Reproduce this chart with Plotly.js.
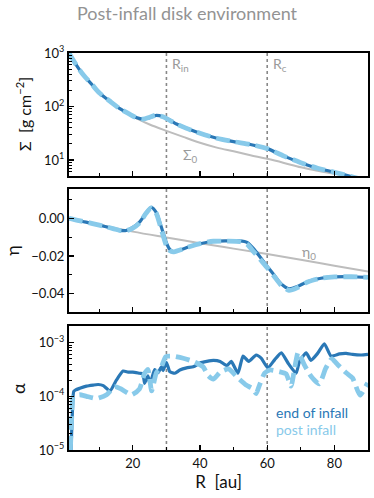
<!DOCTYPE html>
<html>
<head>
<meta charset="utf-8">
<script src="https://cdn.plot.ly/plotly-3.0.1.min.js"></script>
<style>html,body{margin:0;padding:0;background:#fff;}#chart{width:374px;height:498px;}</style>
</head>
<body>
<div id="chart"></div>
<script>
// ---------- data ----------
const markerR = [30, 60];
const markerLabels = ["R<sub>in</sub>", "R<sub>c</sub>"];

// Surface density
const sigmaR = [1, 2, 3, 4, 5, 6, 8, 10, 13, 16, 19, 21, 23, 25, 27, 29, 31, 33, 36, 40, 45, 50, 55, 60, 65, 70, 75, 80, 85, 90];
const sigmaEnd = [1000, 780, 620, 500, 410, 345, 250, 180, 128, 92, 72, 62, 58, 62, 68, 64, 56, 47, 39, 31.5, 25.5, 22, 19.5, 16.3, 11.8, 8.9, 7.0, 5.9, 4.9, 4.0];
const sigmaPost = [1000, 780, 620, 500, 410, 345, 250, 180, 128, 92, 72, 62, 58, 63, 69, 64, 55, 47, 39, 31.5, 25.5, 22, 19.5, 16.3, 11.8, 8.9, 7.0, 5.9, 4.9, 4.0];
const sigma0R = [1, 2, 3, 4, 5, 6, 8, 10, 13, 16, 19, 22, 25, 30, 35, 40, 45, 50, 55, 60, 65, 70, 75, 80, 85, 90];
const sigma0 = [1000, 780, 620, 500, 410, 345, 250, 180, 128, 92, 72, 56, 46, 35, 27, 21, 17, 14.5, 12.3, 10.5, 8.8, 7.3, 6.3, 5.5, 4.9, 4.3];

// Pressure gradient parameter eta
const etaR = [1, 4, 8, 12, 16, 18, 20, 22, 24, 25.5, 27, 28, 29, 30, 31, 32, 34, 37, 40, 44, 48, 52, 54, 56, 58, 60, 62, 64, 66.5, 69, 72, 76, 80, 85, 90];
const etaEnd = [0.0, -0.0013, -0.0028, -0.0045, -0.0064, -0.0065, -0.0048, -0.0020, 0.0030, 0.0058, 0.0030, -0.0020, -0.0075, -0.0130, -0.0165, -0.0177, -0.0168, -0.0150, -0.0135, -0.0122, -0.0120, -0.0120, -0.0128, -0.0162, -0.0208, -0.0255, -0.0300, -0.0345, -0.0374, -0.0362, -0.0336, -0.0318, -0.0311, -0.0310, -0.0313];
const etaPost = [0.0, -0.0013, -0.0028, -0.0045, -0.0064, -0.0066, -0.0052, -0.0025, 0.0028, 0.0055, 0.0025, -0.0030, -0.0090, -0.0145, -0.0172, -0.0178, -0.0168, -0.0150, -0.0135, -0.0122, -0.0121, -0.0124, -0.0138, -0.0178, -0.0220, -0.0262, -0.0306, -0.0352, -0.0382, -0.0368, -0.0338, -0.0318, -0.0311, -0.0310, -0.0313];
const eta0R = [1, 10, 20, 30, 40, 50, 60, 70, 80, 90];
const eta0 = [0.0, -0.0035, -0.0071, -0.0102, -0.0132, -0.0161, -0.0190, -0.0220, -0.0252, -0.0283];

// Viscosity alpha
const alphaEndR = [1.6, 2.0, 2.4, 3, 4.2, 6.2, 8.2, 9.7, 11.2, 13.2, 15.1, 17.1, 18.6, 20, 22, 23, 23.5, 24.5, 25.1, 26.5, 27.5, 28.5, 29, 30, 31, 32.5, 34, 36, 38, 40, 42, 44, 46, 48, 49.3, 51.3, 52.8, 54.5, 56.7, 58.2, 60.2, 62.2, 64.2, 66.4, 68.6, 69.6, 71.6, 73, 75, 77, 79, 81.5, 83.5, 85.4, 88, 90];
const alphaEnd = [1.0e-5, 5.0e-5, 1.23e-4, 1.32e-4, 1.41e-4, 1.55e-4, 1.62e-4, 1.66e-4, 1.58e-4, 1.26e-4, 2.0e-4, 2.95e-4, 2.82e-4, 2.82e-4, 2.69e-4, 2.63e-4, 1.74e-4, 2.40e-4, 1.70e-4, 3.16e-4, 2.75e-4, 3.55e-4, 3.02e-4, 4.27e-4, 2.88e-4, 2.69e-4, 3.09e-4, 3.39e-4, 3.55e-4, 4.17e-4, 4.47e-4, 4.68e-4, 4.47e-4, 3.72e-4, 4.47e-4, 2.69e-4, 5.62e-4, 4.47e-4, 5.89e-4, 5.13e-4, 3.39e-4, 4.79e-4, 6.46e-4, 3.98e-4, 2.69e-4, 4.47e-4, 6.46e-4, 4.68e-4, 6.31e-4, 9.55e-4, 5.62e-4, 6.17e-4, 6.31e-4, 6.03e-4, 5.89e-4, 6.03e-4];
const alphaPostR = [1.4, 1.8, 2.3, 4.2, 6.2, 9.2, 12.2, 14.6, 16.4, 19.6, 22, 23.5, 24.5, 25.6, 27, 28.5, 29.8, 32, 35, 38, 40.9, 42.5, 44, 46, 48.5, 51.3, 53.7, 55.5, 56.7, 57.7, 59.2, 60.7, 63.6, 65.6, 67.1, 68.1, 69.2, 71.1, 73.1, 75.5, 77.4, 79.2, 81, 83.5, 85.4, 87.6, 89.9];
const alphaPost = [1.0e-5, 3.98e-5, 1.0e-4, 1.07e-4, 1.0e-4, 9.1e-5, 1.07e-4, 1.51e-4, 1.38e-4, 1.07e-4, 1.38e-4, 2.69e-4, 3.16e-4, 1.26e-4, 2.75e-4, 3.55e-4, 5.5e-4, 5.62e-4, 5.13e-4, 4.47e-4, 3.55e-4, 2.40e-4, 2.09e-4, 2.82e-4, 3.24e-4, 2.19e-4, 1.62e-4, 1.41e-4, 1.12e-4, 1.62e-4, 2.69e-4, 3.09e-4, 2.88e-4, 2.63e-4, 1.55e-4, 3.16e-4, 6.61e-4, 3.80e-4, 2.34e-4, 1.70e-4, 3.31e-4, 5.01e-4, 3.89e-4, 2.75e-4, 2.19e-4, 1.05e-4, 1.78e-4];

const seriesNames = ["end of infall", "post infall"];
const titleText = "Post-infall disk environment";

// ---------- style ----------
const DARK = "#2a78b6";
const LIGHT = "#88caea";
const GREY = "#bdbdbd";
const FONT = "Lato, 'Open Sans', sans-serif";

function darkLine(x, y, xa, ya) {
  return {x: x, y: y, xaxis: xa, yaxis: ya, mode: "lines", type: "scatter",
    line: {color: DARK, width: 3.2, shape: "spline", smoothing: 0.7}, hoverinfo: "skip"};
}
function lightLine(x, y, xa, ya) {
  return {x: x, y: y, xaxis: xa, yaxis: ya, mode: "lines", type: "scatter",
    line: {color: LIGHT, width: 4.8, dash: "14px,6px", shape: "spline", smoothing: 0.7}, hoverinfo: "skip"};
}
function greyLine(x, y, xa, ya) {
  return {x: x, y: y, xaxis: xa, yaxis: ya, mode: "lines", type: "scatter",
    line: {color: GREY, width: 2, shape: "spline"}, hoverinfo: "skip"};
}

const traces = [
  greyLine(sigma0R, sigma0, "x", "y"),
  darkLine(sigmaR, sigmaEnd, "x", "y"),
  lightLine(sigmaR, sigmaPost, "x", "y"),
  greyLine(eta0R, eta0, "x2", "y2"),
  darkLine(etaR, etaEnd, "x2", "y2"),
  lightLine(etaR, etaPost, "x2", "y2"),
  darkLine(alphaEndR, alphaEnd, "x3", "y3"),
  lightLine(alphaPostR, alphaPost, "x3", "y3")
];
traces[6].line.smoothing = 0.5;
traces[7].line.smoothing = 0.5;

const xMinor = [10, 30, 50, 70, 90];
function xAxis(anchor, showLabels) {
  return {
    anchor: anchor, range: [1, 90], showgrid: false, zeroline: false,
    showline: true, linecolor: "#000", linewidth: 2, mirror: true,
    ticks: "inside", ticklen: 5, tickwidth: 1.3, tickcolor: "#000",
    tickvals: [20, 40, 60, 80], showticklabels: showLabels,
    tickfont: {family: FONT, size: 13, color: "#111"},
    minor: {ticks: "inside", ticklen: 3, tickwidth: 1, tickcolor: "#000", tickvals: xMinor}
  };
}
function logMinor(lo, hi) {
  const v = [];
  for (let e = lo; e <= hi; e++) for (let m = 2; m <= 9; m++) v.push(m * Math.pow(10, e));
  return v;
}
const yCommon = {
  showgrid: false, zeroline: false, showline: true, linecolor: "#000", linewidth: 2, mirror: true,
  ticks: "inside", ticklen: 5, tickwidth: 1.3, tickcolor: "#000",
  tickfont: {family: FONT, size: 13, color: "#111"}
};

const layout = {
  width: 374, height: 498,
  margin: {l: 69, r: 6, t: 53, b: 48},
  paper_bgcolor: "#fff", plot_bgcolor: "#fff",
  showlegend: false,
  font: {family: FONT, color: "#111"},
  title: {text: titleText, font: {family: FONT, size: 18, color: "#939393"},
    x: 0.5, xref: "container", xanchor: "center", y: 0.972, yref: "container", yanchor: "middle"},
  xaxis: xAxis("y", false),
  xaxis2: xAxis("y2", false),
  xaxis3: Object.assign(xAxis("y3", true), {
    title: {text: "R  [au]", font: {family: FONT, size: 17, color: "#111"}, standoff: 6}
  }),
  yaxis: Object.assign({}, yCommon, {
    domain: [0.690, 1.0], type: "log", range: [Math.log10(5), 3], anchor: "x",
    tickvals: [10, 100, 1000], ticktext: ["10<sup>1</sup>", "10<sup>2</sup>", "10<sup>3</sup>"],
    minor: {ticks: "inside", ticklen: 3, tickwidth: 1, tickcolor: "#000", tickvals: logMinor(0, 2)}
  }),
  yaxis2: Object.assign({}, yCommon, {
    domain: [0.3476, 0.6574], range: [-0.0497, 0.0155], anchor: "x2",
    tickvals: [0, -0.02, -0.04], tickformat: ".2f",
    minor: {ticks: "inside", ticklen: 3, tickwidth: 1, tickcolor: "#000", tickvals: [0.01, -0.01, -0.03]}
  }),
  yaxis3: Object.assign({}, yCommon, {
    domain: [0, 0.3123], type: "log", range: [-5, -2.69], anchor: "x3",
    tickvals: [1e-5, 1e-4, 1e-3], ticktext: ["10<sup>−5</sup>", "10<sup>−4</sup>", "10<sup>−3</sup>"],
    minor: {ticks: "inside", ticklen: 3, tickwidth: 1, tickcolor: "#000", tickvals: logMinor(-5, -3)}
  }),
  shapes: [],
  annotations: []
};

// vertical dotted markers in each panel
const yDomains = [[0.690, 1.0], [0.3476, 0.6574], [0, 0.3123]];
const xNames = ["x", "x2", "x3"];
for (let p = 0; p < 3; p++) {
  markerR.forEach(r => {
    layout.shapes.push({type: "line", xref: xNames[p], yref: "paper", x0: r, x1: r,
      y0: yDomains[p][0], y1: yDomains[p][1], line: {color: "#888", width: 1.6, dash: "dot"}, layer: "below"});
  });
}
const C = {xanchor: "center", yanchor: "middle", showarrow: false};
markerR.forEach((r, i) => {
  layout.annotations.push({xref: "x", yref: "paper", x: r, y: 0.972, xanchor: "left", yanchor: "middle",
    xshift: 4, showarrow: false, text: markerLabels[i], font: {family: FONT, size: 14, color: "#9a9a9a"}});
});
layout.annotations.push(
  Object.assign({xref: "x", yref: "paper", x: 37.2, y: 0.7406, text: "Σ<sub>0</sub>",
    font: {family: FONT, size: 14, color: "#9a9a9a"}}, C),
  Object.assign({xref: "x2", yref: "paper", x: 72.3, y: 0.4987, text: "η<sub>0</sub>",
    font: {family: FONT, size: 14, color: "#9a9a9a"}}, C),
  Object.assign({xref: "x3", yref: "paper", x: 62.1, y: 0.0932, text: seriesNames[0],
    font: {family: FONT, size: 14, color: DARK}}, C, {xanchor: "left"}),
  Object.assign({xref: "x3", yref: "paper", x: 62.1, y: 0.0504, text: seriesNames[1],
    font: {family: FONT, size: 14, color: LIGHT}}, C, {xanchor: "left"}),
  Object.assign({xref: "paper", yref: "paper", x: -0.150, y: 0.847, textangle: -90,
    text: "Σ  [g cm<sup>−2</sup>]", font: {family: FONT, size: 16, color: "#111"}}, C),
  Object.assign({xref: "paper", yref: "paper", x: -0.191, y: 0.504, textangle: -90,
    text: "η", font: {family: FONT, size: 18, color: "#111"}}, C),
  Object.assign({xref: "paper", yref: "paper", x: -0.171, y: 0.156, textangle: -90,
    text: "α", font: {family: FONT, size: 18, color: "#111"}}, C)
);

Plotly.newPlot("chart", traces, layout, {displayModeBar: false, staticPlot: true});
</script>
</body>
</html>
